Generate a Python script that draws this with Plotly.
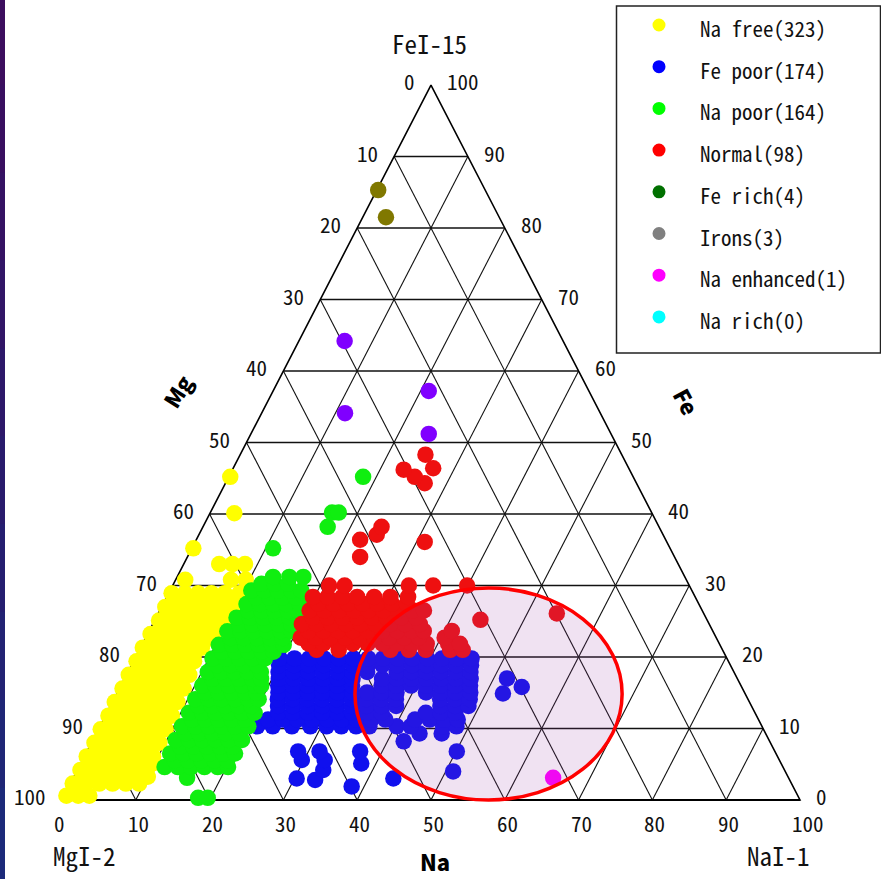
import plotly.graph_objects as go

# ---------------------------------------------------------------------------
# Meteor spectra compositions (percent). Each row is (Fe, [Na, Na, ...]);
# Mg is the remainder, 100 - Fe - Na.
# ---------------------------------------------------------------------------
NA_FREE_ROWS = [
    (0.6, [0.3, 1.9, 3.4]),
    (2.3, [0.3, 2.1, 3.9, 5.7, 7.5, 9.3]),
    (3.25, [1.2, 3.0, 4.8, 6.6, 8.4, 10.0]),
    (4.2, [0.4, 2.2, 4.0, 5.8, 7.6, 9.4]),
    (5.15, [1.2, 3.0, 4.8, 6.6, 8.4, 9.8]),
    (6.1, [0.3, 2.1, 3.9, 5.7, 7.5, 9.3]),
    (7.05, [1.2, 3.0, 4.8, 6.6, 8.4]),
    (8.0, [0.4, 2.2, 4.0, 5.8, 7.6, 9.2]),
    (8.95, [1.2, 3.0, 4.8, 6.6, 8.4]),
    (9.9, [0.3, 2.1, 3.9, 5.7, 7.5, 9.1]),
    (10.85, [1.2, 3.0, 4.8, 6.6, 8.3]),
    (11.8, [0.4, 2.2, 4.0, 5.8, 7.6, 9.0]),
    (12.75, [1.2, 3.0, 4.8, 6.6, 8.2]),
    (13.7, [0.3, 2.1, 3.9, 5.7, 7.4, 8.8]),
    (14.65, [1.2, 3.0, 4.8, 6.6, 8.0]),
    (15.6, [0.4, 2.2, 4.0, 5.8, 7.5, 8.7]),
    (16.55, [1.2, 3.0, 4.8, 6.4, 7.9]),
    (17.5, [0.3, 2.1, 3.9, 5.6, 7.2, 8.5]),
    (18.45, [1.2, 3.0, 4.8, 6.4, 7.8]),
    (19.4, [0.4, 2.2, 4.0, 5.7, 7.3, 8.2]),
    (20.35, [1.2, 3.0, 4.8, 6.4, 7.7]),
    (21.3, [0.3, 2.1, 3.9, 5.6, 7.2, 8.3]),
    (22.25, [1.2, 3.0, 4.8, 6.6, 8.2]),
    (23.2, [0.4, 2.2, 4.0, 5.8, 7.6, 9.0]),
    (24.15, [1.4, 3.2, 5.0, 6.8, 8.6]),
    (25.1, [0.6, 2.4, 4.2, 6.0, 7.8, 9.5]),
    (26.05, [1.5, 3.3, 5.1, 6.9, 8.7]),
    (27.0, [0.5, 2.3, 4.1, 5.9, 7.7, 9.8]),
    (27.95, [1.4, 3.2, 5.0, 6.8, 8.6]),
    (28.9, [0.4, 2.2, 4.0, 5.8, 7.6, 9.6]),
    (30.8, [1.3, 7.5, 9.5]),
    (33.0, [4.8, 6.6, 8.3]),
    (35.2, [0.2]),
    (40.1, [3.3]),
    (45.2, [0.2]),
]

FE_POOR_ROWS = [
    (1.9, [38.3]),
    (2.8, [32.9]),
    (3.0, [30.3, 43.4]),
    (4.0, [51.0]),
    (4.2, [33.3]),
    (5.1, [38.0]),
    (5.6, [29.7, 32.8]),
    (6.8, [28.6, 31.5, 37.0, 50.1]),
    (8.2, [42.2]),
    (9.3, [43.8, 46.8]),
    (10.3, [21.3, 23.4, 26.0, 28.5, 30.7, 32.7, 34.7, 36.5, 40.2, 42.1, 46.5, 48.3]),
    (11.25, [22.3, 24.3, 26.3, 28.3, 30.3, 32.3, 34.3, 36.3, 38.2, 42.2, 44.2, 46.2, 48.0]),
    (12.2, [23.2, 25.2, 27.2, 29.2, 31.2, 33.2, 35.2, 37.2, 43.2, 45.2, 47.2]),
    (13.15, [22.7, 24.7, 26.7, 28.7, 30.7, 32.7, 34.7, 36.7, 38.7, 44.7, 46.7, 48.5]),
    (14.1, [22.2, 24.2, 26.2, 28.2, 30.2, 32.2, 34.2, 36.2, 38.2, 44.2, 46.2, 48.2]),
    (14.9, [52.3]),
    (15.05, [21.8, 23.8, 25.8, 27.8, 29.8, 31.8, 33.8, 35.8, 37.8, 41.8, 43.8, 45.8, 47.8]),
    (15.8, [54.4]),
    (16.0, [21.3, 23.3, 25.3, 27.3, 29.3, 31.3, 35.3, 37.3, 39.3, 41.3, 43.3, 45.3, 47.3]),
    (16.95, [20.9, 22.9, 24.9, 26.9, 28.9, 30.9, 34.9, 36.9, 38.9, 40.9, 42.9, 44.9, 46.9]),
    (17.0, [51.8]),
    (17.9, [20.4, 22.4, 24.4, 26.4, 28.4, 30.4, 32.4, 36.4, 38.4, 40.4, 42.4, 44.4, 46.4]),
    (18.85, [20.0, 22.0, 24.0, 26.0, 28.0, 30.0, 32.0, 34.0, 36.0, 38.0, 40.0, 42.0, 44.0, 46.0]),
    (19.8, [19.6, 21.6, 23.6, 25.6, 27.6, 29.6, 31.6, 33.6, 35.6, 37.6, 39.6, 41.6, 43.6, 45.6]),
]

NA_POOR_ROWS = [
    (0.3, [18.3, 19.6]),
    (3.1, [15.4]),
    (4.6, [11.6, 13.4, 15.2, 17.0, 18.8, 20.2]),
    (5.55, [12.5, 14.3, 16.1, 17.9, 19.6]),
    (6.5, [11.4, 13.2, 15.0, 16.8, 18.6, 20.2]),
    (7.45, [12.3, 14.1, 15.9, 17.7, 19.4]),
    (8.4, [11.2, 13.0, 14.8, 16.6, 18.4, 20.2]),
    (9.35, [12.1, 13.9, 15.7, 17.5, 19.3]),
    (10.3, [11.1, 12.9, 14.7, 16.5, 18.3, 20.1]),
    (11.25, [12.0, 13.8, 15.6, 17.4, 19.2]),
    (12.2, [11.1, 12.9, 14.7, 16.5, 18.3, 20.0]),
    (13.15, [11.9, 13.7, 15.5, 17.3, 19.1]),
    (14.1, [11.0, 12.8, 14.6, 16.4, 18.2, 19.6]),
    (15.05, [11.9, 13.7, 15.5, 17.3, 18.8]),
    (16.0, [11.0, 12.8, 14.6, 16.4, 18.2, 19.0]),
    (16.95, [11.9, 13.7, 15.5, 17.3, 18.5]),
    (17.9, [10.8, 12.6, 14.4, 16.2, 18.0]),
    (18.85, [11.6, 13.4, 15.2, 17.0]),
    (19.8, [10.5, 12.3, 14.1, 15.9, 17.6]),
    (20.75, [11.3, 13.1, 14.9, 16.7, 18.3]),
    (21.7, [10.4, 12.2, 14.0, 15.8, 17.6, 19.2]),
    (22.65, [11.5, 13.3, 15.1, 16.9, 18.6]),
    (23.6, [10.6, 12.4, 14.2, 16.0, 17.8, 19.3]),
    (24.55, [11.7, 13.5, 15.3, 17.1, 18.8]),
    (25.5, [10.9, 12.7, 14.5, 16.3, 18.1, 19.2]),
    (26.45, [12.0, 13.8, 15.6, 17.4, 18.8]),
    (27.4, [11.3, 13.1, 14.9, 16.7, 18.5]),
    (28.35, [12.1, 13.9, 15.7, 17.5]),
    (29.3, [11.0, 12.8, 14.6, 16.4, 17.8]),
    (30.25, [11.9, 13.7, 15.5]),
    (31.2, [13.0, 15.2, 17.1]),
    (35.2, [11.0]),
    (38.2, [16.9]),
    (40.2, [16.5, 17.4]),
    (45.2, [18.2]),
]

NORMAL_ROWS = [
    (21.0, [24.0, 27.0, 34.0, 36.5, 38.8, 42.1, 43.8]),
    (21.85, [22.5, 24.5, 26.5, 28.5, 30.5, 32.5, 34.5, 36.5, 38.5, 41.4, 43.0]),
    (22.7, [21.0, 23.0, 25.0, 27.0, 29.0, 31.0, 33.0, 35.0, 37.0, 40.5]),
    (23.65, [21.6, 23.6, 25.6, 27.6, 29.6, 31.6, 33.6, 35.6, 37.2, 41.0]),
    (24.6, [20.2, 22.2, 24.2, 26.2, 28.2, 30.2, 32.2, 34.2, 36.2]),
    (25.2, [44.1]),
    (25.55, [21.2, 23.2, 25.2, 27.2, 29.2, 31.2, 33.2, 35.2]),
    (26.1, [54.0]),
    (26.5, [20.3, 22.3, 24.3, 26.3, 28.3, 30.3, 32.3, 34.3, 35.8]),
    (27.45, [21.0, 23.0, 25.0, 27.0, 29.0, 31.0, 33.0]),
    (28.4, [19.8, 21.8, 23.8, 25.8, 28.1, 30.3, 32.7]),
    (30.0, [21.2, 23.3, 32.0, 35.3, 39.9]),
    (34.0, [23.4]),
    (36.1, [31.1]),
    (36.4, [22.2]),
    (37.1, [24.1]),
    (38.2, [24.2]),
    (44.3, [27.0]),
    (45.2, [25.2]),
    (46.2, [23.2]),
    (46.4, [27.1]),
    (48.3, [25.1]),
]

FE_RICH_ROWS = [(51.2, [24.1]), (54.1, [11.3]), (57.2, [21.1]), (64.2, [6.2])]
IRONS_ROWS = [(81.5, [3.15]), (85.3, [0.2])]
NA_ENHANCED_ROWS = [(3.1, [65.0])]
NA_RICH_ROWS = []

# Legend entries: (label, swatch colour)
LEGEND_LABELS = ["Na free(323)", "Fe poor(174)", "Na poor(164)", "Normal(98)",
                 "Fe rich(4)", "Irons(3)", "Na enhanced(1)", "Na rich(0)"]
LEGEND_COLORS = ["#ffff00", "#0000ff", "#00ff00", "#ff0000",
                 "#007000", "#808080", "#ff00ff", "#00ffff"]

# Tick values along each edge
TICKS = [0, 10, 20, 30, 40, 50, 60, 70, 80, 90, 100]

# Highlighted region (ellipse bounds in plot units: x = Na + Fe/2, y = Fe)
HIGHLIGHT = dict(x0=39.7, x1=75.9, y0=0.0, y1=29.65)

# ---------------------------------------------------------------------------
FONT = "Noto Sans Mono CJK JP, DejaVu Sans Mono, monospace"
BOLD = "Noto Sans CJK JP, DejaVu Sans, sans-serif"
W, H = 881, 879


def to_xy(rows):
    """Ternary (Na, Fe) -> cartesian (Na + Fe/2, Fe)."""
    xs, ys = [], []
    for fe, nas in rows:
        for na in nas:
            xs.append(na + fe / 2.0)
            ys.append(fe)
    return xs, ys


fig = go.Figure()

# grid: constant Fe (horizontal), constant Na, constant Mg
gx, gy = [], []
hx, hy = [], []
for k in TICKS[1:-1]:
    hx += [k / 2.0, 100 - k / 2.0, None]
    hy += [k, k, None]
    gx += [k, (100 + k) / 2.0, None]
    gy += [0, 100 - k, None]
    gx += [100 - k, (100 - k) / 2.0, None]
    gy += [0, 100 - k, None]
fig.add_trace(go.Scatter(x=gx, y=gy, mode="lines", line=dict(color="#111", width=1.1),
                         hoverinfo="skip", showlegend=False))
fig.add_trace(go.Scatter(x=hx, y=hy, mode="lines", line=dict(color="#111", width=1.6),
                         hoverinfo="skip", showlegend=False))
fig.add_trace(go.Scatter(x=[0, 100, 50, 0], y=[0, 0, 100, 0], mode="lines",
                         line=dict(color="#000", width=1.6), hoverinfo="skip",
                         showlegend=False))
fig.add_trace(go.Scatter(x=[0, 100], y=[0, 0], mode="lines",
                         line=dict(color="#000", width=2.2), hoverinfo="skip",
                         showlegend=False))

groups = [
    ("Na free", NA_FREE_ROWS, "#ffff00"),
    ("Fe poor", FE_POOR_ROWS, "#1010ee"),
    ("Na poor", NA_POOR_ROWS, "#10ee10"),
    ("Normal", NORMAL_ROWS, "#ee1010"),
    ("Fe rich", FE_RICH_ROWS, "#8000ff"),
    ("Irons", IRONS_ROWS, "#807800"),
    ("Na enhanced", NA_ENHANCED_ROWS, "#ff00ff"),
    ("Na rich", NA_RICH_ROWS, "#00ffff"),
]
for name, rows, color in groups:
    xs, ys = to_xy(rows)
    fig.add_trace(go.Scatter(x=xs, y=ys, mode="markers", name=name,
                             marker=dict(size=16.5, color=color, line=dict(width=0)),
                             showlegend=False))

ann = []
lab_font = dict(family=FONT, size=21, color="#111")
for t in TICKS:
    # Mg along the left edge
    ann.append(dict(x=(100 - t) / 2.0, y=100 - t, text=str(t), xanchor="right",
                    yanchor="middle", xshift=-14, yshift=4, font=lab_font))
    # Fe along the right edge
    ann.append(dict(x=100 - t / 2.0, y=t, text=str(t), xanchor="left",
                    yanchor="middle", xshift=14, yshift=4, font=lab_font))
    # Na along the bottom edge
    ann.append(dict(x=t, y=0, text=str(t), xanchor="left", yanchor="middle",
                    xshift=-10, yshift=-23, font=lab_font))

corner_font = dict(family=FONT, size=25, color="#111")
ann.append(dict(x=50, y=100, text="FeI-15", xanchor="center", yanchor="middle",
                xshift=-1, yshift=42, font=corner_font))
ann.append(dict(x=0, y=0, text="MgI-2", xanchor="left", yanchor="middle",
                xshift=-11, yshift=-55, font=corner_font))
ann.append(dict(x=100, y=0, text="NaI-1", xanchor="center", yanchor="middle",
                xshift=-21, yshift=-55, font=corner_font))

bold_font = dict(family=BOLD, size=22, color="#000", weight=900)
ann.append(dict(x=50, y=0, text="Na", xanchor="center", yanchor="middle",
                xshift=4, yshift=-61, font=bold_font))
ann.append(dict(x=25, y=50, text="Mg", xanchor="center", yanchor="middle",
                xshift=-70, yshift=52, textangle=-58, font=bold_font))
ann.append(dict(x=75, y=50, text="Fe", xanchor="center", yanchor="middle",
                xshift=72, yshift=41, textangle=62, font=bold_font))

for a in ann:
    a.update(xref="x", yref="y", showarrow=False)

shapes = []
# highlighted region
shapes.append(dict(type="circle", xref="x", yref="y", layer="above",
                   line=dict(color="#ff0000", width=3.5),
                   fillcolor="rgba(155,62,168,0.15)", **HIGHLIGHT))


# legend box, swatches and labels (paper coordinates)
def px(xp):
    return xp / W


def py(yp):
    return 1 - yp / H


shapes.append(dict(type="rect", xref="paper", yref="paper",
                   x0=px(616.5), x1=px(880.5), y0=py(353), y1=py(6),
                   line=dict(color="#222", width=1.5), fillcolor="rgba(0,0,0,0)"))
for i, (label, color) in enumerate(zip(LEGEND_LABELS, LEGEND_COLORS)):
    cy = 25 + 41.7 * i
    shapes.append(dict(type="circle", xref="paper", yref="paper",
                       x0=px(659 - 6.5), x1=px(659 + 6.5), y0=py(cy + 6.5), y1=py(cy - 6.5),
                       line=dict(width=0), fillcolor=color))
    ann.append(dict(xref="paper", yref="paper", x=px(698), y=py(cy + 3), text=label,
                    xanchor="left", yanchor="middle", showarrow=False,
                    font=dict(family=FONT, size=21, color="#111")))

# dark frame strip on the left edge (purple fading to navy)
strip_cols = ["#3c0e5e", "#390f60", "#351263", "#311566", "#2d1869",
              "#291b6c", "#251e70", "#222273", "#1f2676", "#1c2a7a"]
n = len(strip_cols)
for i, c in enumerate(strip_cols):
    shapes.append(dict(type="rect", xref="paper", yref="paper", layer="above",
                       x0=0, x1=px(5), y0=max(0, 1 - (i + 1) / n - 0.004),
                       y1=min(1, 1 - i / n + 0.004),
                       line=dict(width=0), fillcolor=c))

fig.update_layout(
    width=W, height=H,
    margin=dict(l=0, r=0, t=0, b=0),
    paper_bgcolor="white", plot_bgcolor="white",
    xaxis=dict(range=[-8.40, 110.98], visible=False, fixedrange=True),
    yaxis=dict(range=[-11.05, 111.89], visible=False, fixedrange=True),
    showlegend=False,
    annotations=ann,
    shapes=shapes,
)

fig.write_html("out.html")
